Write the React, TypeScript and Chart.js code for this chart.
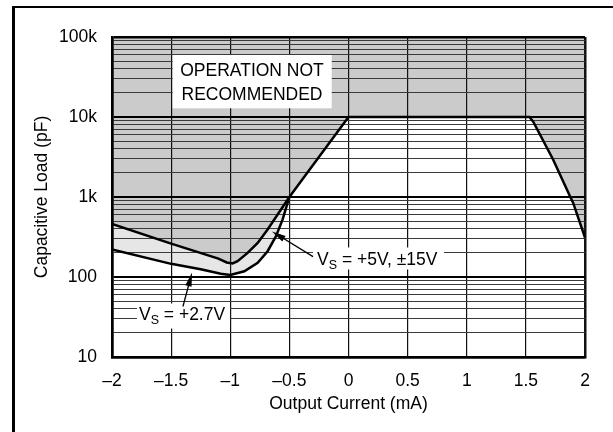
import { useEffect, useRef } from 'react'
import { Chart, registerables } from 'chart.js'

Chart.register(...registerables)

// Vs = +5V, ±15V boundary (output current mA -> capacitive load pF)
const UPPER_X = [-2, -1.5, -1.1, -1.03, -0.98, -0.938, -0.853, -0.768, -0.684, -0.599, -0.5, 0, 1.53, 1.562, 1.73, 1.873, 1.9, 2]
const UPPER_Y = [460, 261, 170, 152, 148, 158, 200, 267, 392, 604, 1000, 10000, 10000, 8730, 2940, 1023, 845, 310]

// Vs = +2.7V boundary
const LOWER_X = [-2, -1.5, -1.25, -1.08, -1.0, -0.881, -0.768, -0.684, -0.613, -0.557, -0.5]
const LOWER_Y = [221, 146, 125, 110, 106, 118, 150, 210, 324, 524, 1000]

const X_TICKS = [-2, -1.5, -1, -0.5, 0, 0.5, 1, 1.5, 2]
const X_TICK_LABELS = ['–2', '–1.5', '–1', '–0.5', '0', '0.5', '1', '1.5', '2']

const Y_DECADES = [10, 100, 1000, 10000, 100000]
const Y_DECADE_LABELS = ['10', '100', '1k', '10k', '100k']
const Y_MINOR_STEPS = [2, 3, 4, 5, 6, 7, 8, 9]

const FONT = "'Liberation Sans', Arial, sans-serif"
const FONT_SIZE = 17.5
const DARK = '#cbcbcb'
const LIGHT = '#e6e6e6'

const yGrid: number[] = []
Y_DECADES.forEach((d, i) => {
  yGrid.push(d)
  if (i < Y_DECADES.length - 1) Y_MINOR_STEPS.forEach(m => yGrid.push(d * m))
})

const isDecade = (v: number) => Y_DECADES.includes(v)

const notesPlugin = {
  id: 'notes',
  afterDatasetsDraw(chart: Chart) {
    const { ctx } = chart
    const xs = chart.scales.x
    const ys = chart.scales.y
    const px = (v: number) => xs.getPixelForValue(v)
    const py = (v: number) => ys.getPixelForValue(v)

    const box = (x0: number, x1: number, y0: number, y1: number) => {
      ctx.fillStyle = '#fff'
      ctx.fillRect(px(x0), py(y0), px(x1) - px(x0), py(y1) - py(y0))
    }

    const arrow = (x0: number, y0: number, x1: number, y1: number) => {
      const ax = px(x0), ay = py(y0), bx = px(x1), by = py(y1)
      const ang = Math.atan2(by - ay, bx - ax)
      const len = 14, half = 3.2
      ctx.strokeStyle = '#000'
      ctx.lineWidth = 1.3
      ctx.beginPath()
      ctx.moveTo(ax, ay)
      ctx.lineTo(bx - Math.cos(ang) * len * 0.8, by - Math.sin(ang) * len * 0.8)
      ctx.stroke()
      ctx.fillStyle = '#000'
      ctx.beginPath()
      ctx.moveTo(bx, by)
      ctx.lineTo(bx - Math.cos(ang) * len - Math.sin(ang) * half, by - Math.sin(ang) * len + Math.cos(ang) * half)
      ctx.lineTo(bx - Math.cos(ang) * len + Math.sin(ang) * half, by - Math.sin(ang) * len - Math.cos(ang) * half)
      ctx.closePath()
      ctx.fill()
    }

    const vsLabel = (rest: string, x: number, y: number) => {
      let left = px(x)
      const base = py(y)
      ctx.fillStyle = '#000'
      ctx.textAlign = 'left'
      ctx.textBaseline = 'alphabetic'
      ctx.font = `${FONT_SIZE}px ${FONT}`
      ctx.fillText('V', left, base)
      left += ctx.measureText('V').width
      ctx.font = `12.5px ${FONT}`
      ctx.fillText('S', left, base + 4)
      left += ctx.measureText('S').width
      ctx.font = `${FONT_SIZE}px ${FONT}`
      ctx.fillText(rest, left, base)
    }

    ctx.save()

    // operation not recommended
    box(-1.487, -0.142, 59600, 12850)
    ctx.fillStyle = '#000'
    ctx.font = `${FONT_SIZE}px ${FONT}`
    ctx.textAlign = 'center'
    ctx.textBaseline = 'alphabetic'
    ctx.fillText('OPERATION NOT', px(-0.816), py(32540))
    ctx.fillText('RECOMMENDED', px(-0.816), py(16310))

    // +2.7V
    box(-1.789, -1.002, 46.6, 22.7)
    arrow(-1.4, 42.8, -1.323, 114)
    vsLabel(' = +2.7V', -1.772, 29.4)

    // +5V, ±15V
    box(-0.3, 0.808, 234, 124)
    arrow(-0.3, 180, -0.647, 371)
    vsLabel(' = +5V, ±15V', -0.266, 143)

    ctx.restore()
  },
}

export default function App() {
  const canvasRef = useRef<HTMLCanvasElement>(null)

  useEffect(() => {
    document.body.style.margin = '0'
    if (!canvasRef.current) return

    Chart.defaults.font.family = FONT
    Chart.defaults.font.size = FONT_SIZE
    Chart.defaults.color = '#000'

    const chart = new Chart(canvasRef.current, {
      type: 'line',
      data: {
        datasets: [
          {
            label: 'VS = +5V, ±15V',
            data: UPPER_X.map((x, i) => ({ x, y: UPPER_Y[i] })),
            borderColor: '#000',
            borderWidth: 2.5,
            backgroundColor: DARK,
            fill: 'end',
            pointRadius: 0,
            tension: 0,
          },
          {
            label: 'VS = +2.7V',
            data: LOWER_X.map((x, i) => ({ x, y: LOWER_Y[i] })),
            borderColor: '#000',
            borderWidth: 2.5,
            backgroundColor: LIGHT,
            fill: 'end',
            pointRadius: 0,
            tension: 0,
          },
        ],
      },
      options: {
        responsive: false,
        animation: false,
        devicePixelRatio: 1,
        layout: { padding: { top: 37, right: 28, left: 0, bottom: 0 } },
        plugins: {
          legend: { display: false },
          tooltip: { enabled: false },
          filler: { drawTime: 'beforeDraw' },
        },
        scales: {
          x: {
            type: 'linear',
            min: -2,
            max: 2,
            afterBuildTicks: (scale: any) => { scale.ticks = X_TICKS.map(v => ({ value: v })) },
            afterFit: (scale: any) => { scale.height = 75 },
            ticks: {
              autoSkip: false,
              maxRotation: 0,
              padding: 14,
              callback: (v: any) => X_TICK_LABELS[X_TICKS.indexOf(Number(v))] ?? '',
            },
            grid: {
              drawTicks: false,
              color: '#111',
              lineWidth: (c: any) => (c.tick && Math.abs(c.tick.value) === 2 ? 2.5 : 1.2),
            },
            border: { color: '#000', width: 2.5 },
            title: { display: true, text: 'Output Current (mA)', padding: { top: 0, bottom: 17 } },
          },
          y: {
            type: 'logarithmic',
            min: 10,
            max: 100000,
            afterBuildTicks: (scale: any) => { scale.ticks = yGrid.map(v => ({ value: v, major: isDecade(v) })) },
            afterFit: (scale: any) => { scale.width = 112 },
            ticks: {
              autoSkip: false,
              padding: 15,
              callback: (v: any) => {
                const i = Y_DECADES.indexOf(Number(v))
                return i >= 0 ? Y_DECADE_LABELS[i] : ''
              },
            },
            grid: {
              drawTicks: false,
              color: (c: any) => (c.tick && isDecade(c.tick.value) ? '#000' : '#3a3a3a'),
              lineWidth: (c: any) => {
                if (!c.tick) return 1
                const v = c.tick.value
                if (v === 10 || v === 100000) return 2.5
                return isDecade(v) ? 2 : 1
              },
            },
            border: { color: '#000', width: 2.5 },
            title: { display: true, text: 'Capacitive Load (pF)', padding: { top: 32, bottom: 0 } },
          },
        },
      },
      plugins: [notesPlugin],
    })

    return () => chart.destroy()
  }, [])

  return (
    <div style={{ position: 'relative', width: 613, height: 432, background: '#fff', overflow: 'hidden' }}>
      <div
        style={{
          position: 'absolute', left: 12, top: 6, right: -4, bottom: -4,
          borderLeft: '3px solid #000', borderTop: '2px solid #000',
        }}
      />
      <canvas ref={canvasRef} width={613} height={432} style={{ position: 'absolute', left: 0, top: 0 }} />
    </div>
  )
}
